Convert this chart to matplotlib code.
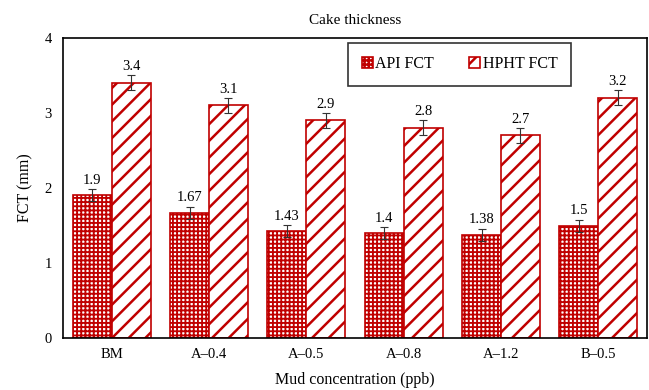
import numpy as np
import matplotlib.pyplot as plt

plt.rcParams['font.family'] = ['Liberation Serif', 'DejaVu Serif']

categories = ['BM', 'A\u20130.4', 'A\u20130.5', 'A\u20130.8', 'A\u20131.2', 'B\u20130.5']
api_fct = [1.9, 1.67, 1.43, 1.4, 1.38, 1.5]
hpht_fct = [3.4, 3.1, 2.9, 2.8, 2.7, 3.2]
api_err = [0.08, 0.08, 0.08, 0.08, 0.08, 0.08]
hpht_err = [0.1, 0.1, 0.1, 0.1, 0.1, 0.1]

red = '#c00000'
plt.rcParams['hatch.color'] = red

fig = plt.figure(figsize=(6.49, 3.9), dpi=100)
ax = fig.add_axes([0.097, 0.133, 0.9, 0.77])

x = np.arange(len(categories))
w = 0.4
ekw = dict(ecolor='#333333', elinewidth=0.8, capthick=0.8)

plt.rcParams['hatch.linewidth'] = 1.35
b1 = ax.bar(x - w / 2, api_fct, w, color='white', edgecolor=red, hatch='++++', linewidth=1.2,
            yerr=api_err, capsize=3, error_kw=ekw, label='API FCT')
plt.rcParams['hatch.linewidth'] = 1.8
b2 = ax.bar(x + w / 2, hpht_fct, w, color='white', edgecolor=red, hatch='//', linewidth=1.2,
            yerr=hpht_err, capsize=3, error_kw=ekw, label='HPHT FCT')

for xi, v, e in zip(x - w / 2, api_fct, api_err):
    ax.text(xi, v + e + 0.03, f'{v:g}', ha='center', va='bottom', fontsize=10.5)
for xi, v, e in zip(x + w / 2, hpht_fct, hpht_err):
    ax.text(xi, v + e + 0.03, f'{v:g}', ha='center', va='bottom', fontsize=10.5)

ax.set_xlim(-0.5, len(categories) - 0.5)
ax.set_ylim(0, 4)
ax.set_yticks([0, 1, 2, 3, 4])
ax.set_xticks(x)
ax.set_xticklabels(categories)
ax.tick_params(length=0, labelsize=10.5, pad=8)
ax.tick_params(axis='x', pad=7)
for s in ax.spines.values():
    s.set_linewidth(1.2)

ax.set_title('Cake thickness', fontsize=11, pad=10)
ax.set_xlabel('Mud concentration (ppb)', fontsize=11.5, labelpad=8)
ax.set_ylabel('FCT (mm)', fontsize=11.5, labelpad=8)

leg = ax.legend(loc='upper left', bbox_to_anchor=(0.483, 0.995), ncol=2, fontsize=11.5,
                frameon=True, fancybox=False, edgecolor='black', handlelength=0.7,
                handleheight=0.7, handletextpad=0.15, columnspacing=2.2, borderpad=0.85,
                borderaxespad=0.2)
leg.get_frame().set_linewidth(1.2)

fig.savefig('out.png', dpi=100)
